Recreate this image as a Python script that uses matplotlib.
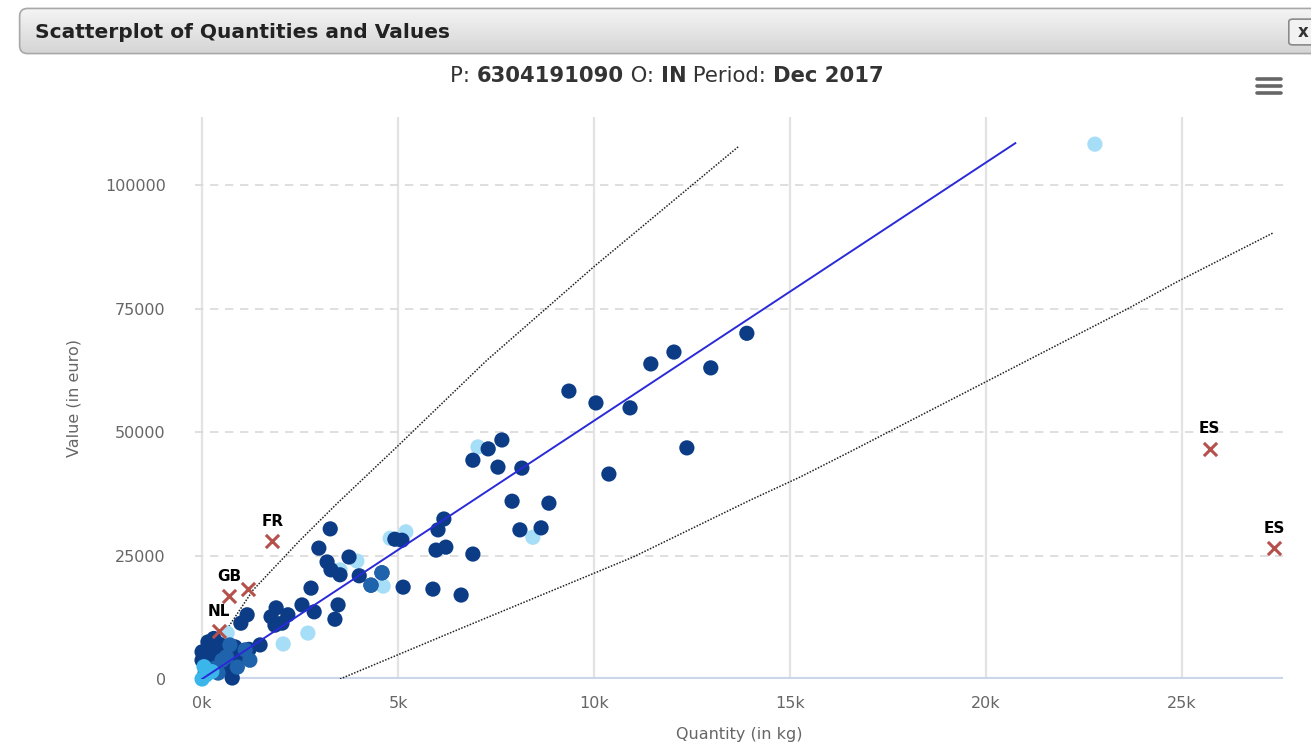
import numpy as np
import matplotlib
matplotlib.use("Agg")
import matplotlib.pyplot as plt
from matplotlib.patches import FancyBboxPatch

W, H = 1311, 746

# ---- data (quantity in kg, value in euro) ----
dark_qty = [9360, 10050, 10920, 11450, 12040, 12980, 13900, 12370, 10380, 7650,
            7300, 6910, 7550, 8160, 7910, 8850, 8110, 8650, 6910,
            6610, 5890, 5130, 6170, 6020, 5970, 6220, 4920, 5100, 3270,
            2980, 3190, 3290, 3520, 3750, 4010, 4590, 4310, 2780, 3470,
            3390, 2860, 2550,
            1890, 1760, 1860, 2040, 2190, 1480, 1150, 990, 150, 0,
            200, 410, 660, 840, 970, 0, 280, 590, 840, 660, 80, 770,
            1200, 1050, 450, 300, 550]
dark_val = [58300, 55900, 54900, 63800, 66200, 63000, 70000, 46800, 41500, 48400,
            46600, 44300, 42900, 42700, 36000, 35600, 30200, 30600, 25300,
            17000, 18200, 18600, 32400, 30200, 26100, 26700, 28300, 28100, 30400,
            26500, 23700, 22100, 21100, 24700, 20900, 21500, 19000, 18400, 15000,
            12100, 13600, 15000,
            14400, 12600, 10900, 11300, 13000, 6900, 13000, 11300, 7500, 5500,
            5300, 4900, 5500, 6500, 4900, 3800, 3200, 3200, 3400, 1800, 1200, 200,
            6000, 4500, 7000, 8200, 2600]

mid_qty = [410, 330, 510, 1100, 710, 1220, 4590, 4310, 900, 620]
mid_val = [1200, 2200, 3800, 5900, 6900, 3800, 21500, 19000, 2400, 4500]

light_qty = [7040, 5200, 4800, 3950, 4620, 8440, 3520, 22780, 2700, 2070, 640]
light_val = [47000, 29800, 28500, 23900, 18800, 28700, 22100, 108300, 9300, 7100, 9300]

cyan_qty = [0, 100, 250, 50]
cyan_val = [0, 800, 1500, 2500]

# outliers flagged with country
out_qty = [1790, 690, 1170, 430, 25710, 27350]
out_val = [27900, 16800, 18200, 9700, 46600, 26500]
out_lab = ["FR", "GB", "", "NL", "ES", "ES"]

# regression line and band lines
reg_qty = [0, 20750]
reg_val = [0, 108500]
upper_qty = [250, 1300, 2500, 3440, 4970, 7260, 10000, 13700]
upper_val = [5500, 18000, 28100, 35500, 47000, 64500, 83500, 107900]
lower_qty = [3520, 6500, 11000, 13980, 15260, 16530, 23600, 24870, 27320]
lower_val = [0, 9900, 24700, 36200, 40900, 46000, 74900, 80400, 90300]

x_ticks = [0, 5000, 10000, 15000, 20000, 25000]
x_labels = ["0k", "5k", "10k", "15k", "20k", "25k"]
y_ticks = [0, 25000, 50000, 75000, 100000]

plt.rcParams['font.family'] = ['DejaVu Sans']

fig = plt.figure(figsize=(W / 100, H / 100), dpi=100)
fig.patch.set_facecolor("white")

def fx(px):
    return px / W

def fy(py):
    return 1 - py / H

# ---- header bar with gradient ----
hx0, hy0, hx1, hy1 = 17, 7, 1330, 55
hax = fig.add_axes([fx(hx0), fy(hy1), fx(hx1 - hx0), (hy1 - hy0) / H])
hax.set_xlim(0, 1)
hax.set_ylim(0, 1)
hax.axis("off")
grad = np.linspace(0, 1, 64).reshape(-1, 1)
cmap = matplotlib.colors.LinearSegmentedColormap.from_list("g", ["#f6f6f6", "#d4d4d4"])
img = hax.imshow(grad, extent=[0, 1, 0, 1], aspect="auto", cmap=cmap, origin="upper")
box = FancyBboxPatch((0.002, 0.03), 0.996, 0.94, boxstyle="round,pad=0,rounding_size=0.006",
                     transform=hax.transAxes, facecolor="none", edgecolor="#a8a8a8", lw=1.2,
                     mutation_aspect=(hx1 - hx0) / (hy1 - hy0))
hax.add_patch(box)
img.set_clip_path(box)
fig.text(fx(35), fy(38), "Scatterplot of Quantities and Values", fontsize=14.5,
         fontweight="bold", color="#222222", va="baseline", ha="left")

# close button
cax = fig.add_axes([fx(1288), fy(46), fx(40), 28 / H])
cax.axis("off")
cax.set_xlim(0, 1)
cax.set_ylim(0, 1)
cax.add_patch(FancyBboxPatch((0.02, 0.04), 0.96, 0.92, boxstyle="round,pad=0,rounding_size=0.1",
                             transform=cax.transAxes, facecolor="#f2f2f2", edgecolor="#8a8a8a", lw=1.2))
fig.text(fx(1298), fy(37), "x", fontsize=12, fontweight="bold", color="#333333", va="baseline")

# ---- subtitle with bold parts, chained one after another ----
parts = [("P: ", "normal"), ("6304191090", "bold"), (" O: ", "normal"), ("IN", "bold"),
         (" Period: ", "normal"), ("Dec 2017", "bold")]
prev = fig.text(fx(450), fy(82), parts[0][0], fontsize=15.2, fontweight=parts[0][1],
                color="#333333", va="baseline", ha="left")
for txt, wt in parts[1:]:
    prev = plt.annotate(txt, xy=(1, 0), xycoords=prev, va="bottom", ha="left",
                        fontsize=15.2, fontweight=wt, color="#333333")

# hamburger icon
for yy in [79, 86, 93]:
    fig.add_artist(plt.Line2D([fx(1257), fx(1281)], [fy(yy), fy(yy)], color="#666666",
                              lw=2.6, solid_capstyle="round"))

# ---- main plot ----
left, right, top, bottom = 195, 1283, 117, 679
ax = fig.add_axes([fx(left), fy(bottom), fx(right - left), (bottom - top) / H])
ax.set_xlim(-180, 27580)
ax.set_ylim(0, 113800)
for s in ax.spines.values():
    s.set_visible(False)

for xt in x_ticks:
    ax.axvline(xt, color="#e3e3e3", lw=1.6, zorder=0)
for yt in y_ticks[1:]:
    ax.axhline(yt, color="#d9d9d9", lw=1.2, ls=(0, (5, 4)), zorder=0)
ax.axhline(0, color="#ccd6eb", lw=3, zorder=1)

ax.set_xticks(x_ticks)
ax.set_xticklabels(x_labels)
ax.set_yticks(y_ticks)
ax.set_yticklabels([str(v) for v in y_ticks])
ax.tick_params(length=0, colors="#666666", labelsize=11.5)
ax.tick_params(axis="x", pad=12)
ax.tick_params(axis="y", pad=21)
ax.set_xlabel("Quantity (in kg)", fontsize=11.5, color="#666666", labelpad=12)
ax.set_ylabel("Value (in euro)", fontsize=11.5, color="#666666", labelpad=17)

ax.plot(upper_qty, upper_val, color="#222222", lw=1.1, ls=(0, (1, 1)), zorder=2)
ax.plot(lower_qty, lower_val, color="#222222", lw=1.1, ls=(0, (1, 1)), zorder=2)

ax.scatter(light_qty, light_val, s=120, color="#a6def7", edgecolors="none", zorder=3, clip_on=False)
ax.scatter(dark_qty, dark_val, s=120, color="#0b3c85", edgecolors="none", zorder=4, clip_on=False)
ax.scatter(mid_qty, mid_val, s=120, color="#1f63ad", edgecolors="none", zorder=5, clip_on=False)
ax.scatter(cyan_qty, cyan_val, s=120, color="#3ab6ea", edgecolors="none", zorder=6, clip_on=False)

ax.plot(reg_qty, reg_val, color="#2a2ad8", lw=1.4, zorder=7)

ax.scatter(out_qty, out_val, s=90, marker="x", color="#b5504b", linewidths=2.2, zorder=8, clip_on=False)
for q, v, lab in zip(out_qty, out_val, out_lab):
    if lab:
        ax.annotate(lab, (q, v), xytext=(0, 9), textcoords="offset points", ha="center",
                    va="bottom", fontsize=11, fontweight="bold", color="#000000", zorder=9)

fig.savefig("out.png", dpi=100, facecolor="white")
